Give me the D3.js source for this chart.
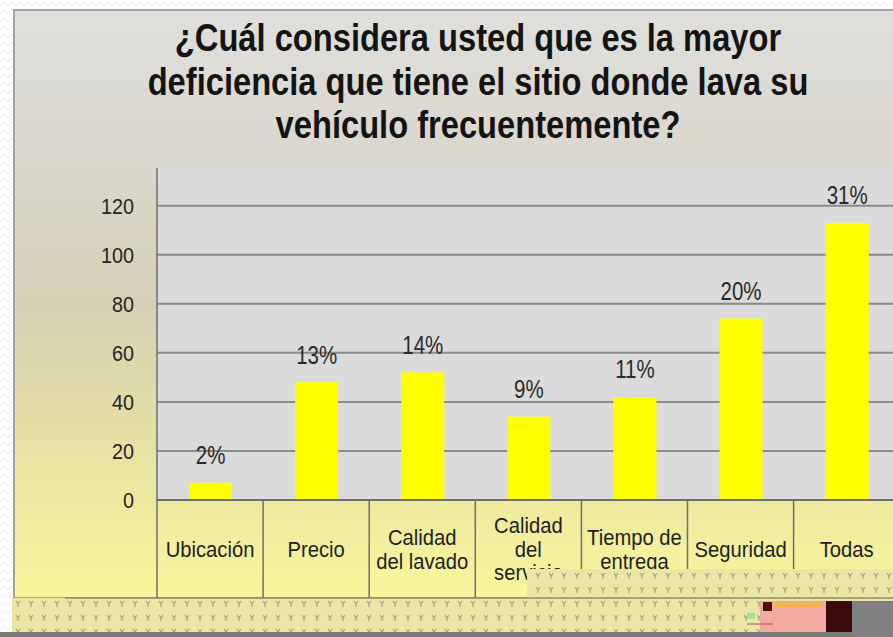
<!DOCTYPE html>
<html>
<head>
<meta charset="utf-8">
<script src="https://cdn.jsdelivr.net/npm/d3@7"></script>
<style>
  html, body { margin: 0; padding: 0; background: #fff; }
  svg { display: block; }
</style>
</head>
<body>
<div id="chart-area"></div>
<script>
// data
var titleLines = ["¿Cuál considera usted que es la mayor",
                  "deficiencia que tiene el sitio donde lava su",
                  "vehículo frecuentemente?"];
var categories = ["Ubicación", "Precio", "Calidad del lavado", "Calidad del servicio",
                  "Tiempo de entrega", "Seguridad", "Todas"];
var categoryLines = [["Ubicación"], ["Precio"], ["Calidad", "del lavado"], ["Calidad", "del", "servicio"],
                     ["Tiempo de", "entrega"], ["Seguridad"], ["Todas"]];
var counts = [7, 48, 52, 34, 42, 74, 113];
var percentLabels = ["2%", "13%", "14%", "9%", "11%", "20%", "31%"];
var yTicks = [0, 20, 40, 60, 80, 100, 120];

var W = 893, H = 637;
var plot = { left: 157, top: 168, bottom: 500, right: 900 };
var tableBottom = 598;

var svg = d3.select("#chart-area").append("svg")
    .attr("width", W)
    .attr("height", H);

var defs = svg.append("defs");

// panel gradient (gray at top going to pale yellow)
var grad = defs.append("linearGradient")
    .attr("id", "panelGrad")
    .attr("x1", 0).attr("y1", 0).attr("x2", 0).attr("y2", 1);
[[0, "#e0dfdd"], [0.25, "#dad7cd"], [0.5, "#d6d0b5"], [0.7, "#e3dea6"], [0.85, "#eeeb9f"], [1, "#f8f69d"]]
    .forEach(function (s) {
        grad.append("stop").attr("offset", s[0]).attr("stop-color", s[1]);
    });

// faint zig-zag on white outer background
var zig = defs.append("pattern")
    .attr("id", "zig").attr("patternUnits", "userSpaceOnUse")
    .attr("width", 8).attr("height", 8);
zig.append("rect").attr("width", 8).attr("height", 8).attr("fill", "#ffffff");
zig.append("path").attr("d", "M0,6 L4,2 L8,6").attr("fill", "none")
    .attr("stroke", "#ececec").attr("stroke-width", 1);

// dotted yellow strip at the bottom
var dots = defs.append("pattern")
    .attr("id", "dots").attr("patternUnits", "userSpaceOnUse")
    .attr("x", 0).attr("y", 598)
    .attr("width", 13).attr("height", 14);
dots.append("rect").attr("width", 13).attr("height", 14).attr("fill", "#ece6a6");
dots.append("path").attr("d", "M3,3 L5,6 L7,3 M5,6 L5,9").attr("fill", "none")
    .attr("stroke", "#a9a07a").attr("stroke-width", 1.2);

svg.append("rect").attr("width", W).attr("height", H).attr("fill", "url(#zig)");

// panel
svg.append("rect")
    .attr("x", 14).attr("y", 10)
    .attr("width", W + 20).attr("height", tableBottom - 10)
    .attr("fill", "url(#panelGrad)")
    .attr("stroke", "#a3a3a3").attr("stroke-width", 2);

// title
var title = svg.append("g").attr("class", "title");
titleLines.forEach(function (t, i) {
    title.append("text")
        .attr("transform", "translate(478," + (51 + i * 43.5) + ") scale(0.86,1)")
        .attr("text-anchor", "middle")
        .attr("font-family", "'Liberation Sans', Arial, sans-serif")
        .attr("font-weight", "bold")
        .attr("font-size", 38)
        .attr("fill", "#141414")
        .text(t);
});

// scales
var x = d3.scaleBand()
    .domain(categories)
    .range([plot.left, plot.left + 7 * 106.1])
    .paddingInner(0).paddingOuter(0);
var y = d3.scaleLinear()
    .domain([0, 120])
    .range([plot.bottom, 205.7]);
var barWidth = 43;

// plot background
svg.append("rect")
    .attr("x", plot.left).attr("y", plot.top)
    .attr("width", plot.right - plot.left).attr("height", plot.bottom - plot.top)
    .attr("fill", "#dbdbdb");

// gridlines
svg.append("g").attr("class", "grid")
    .selectAll("line")
    .data(yTicks.filter(function (d) { return d > 0; }))
    .join("line")
    .attr("x1", plot.left).attr("x2", plot.right)
    .attr("y1", function (d) { return y(d); })
    .attr("y2", function (d) { return y(d); })
    .attr("stroke", "#8b8b8b").attr("stroke-width", 2);

// y tick labels
svg.append("g").attr("class", "y axis")
    .selectAll("text")
    .data(yTicks)
    .join("text")
    .attr("transform", function (d) { return "translate(134," + y(d) + ") scale(0.9,1)"; })
    .attr("dy", "0.36em")
    .attr("text-anchor", "end")
    .attr("font-family", "'Liberation Sans', Arial, sans-serif")
    .attr("font-size", 22)
    .attr("fill", "#262626")
    .text(function (d) { return d; });

// bars
svg.append("g").attr("class", "bars")
    .selectAll("rect")
    .data(counts)
    .join("rect")
    .attr("x", function (d, i) { return x(categories[i]) + x.bandwidth() / 2 - barWidth / 2 + 0.5; })
    .attr("y", function (d) { return y(d); })
    .attr("width", barWidth)
    .attr("height", function (d) { return y(0) - y(d); })
    .attr("fill", "#ffff00");

// percentage labels
svg.append("g").attr("class", "labels")
    .selectAll("text")
    .data(counts)
    .join("text")
    .attr("transform", function (d, i) {
        return "translate(" + (x(categories[i]) + x.bandwidth() / 2 + 0.5) + "," + (y(d) - 18.5) + ") scale(0.82,1)";
    })
    .attr("text-anchor", "middle")
    .attr("font-family", "'Liberation Sans', Arial, sans-serif")
    .attr("font-size", 25)
    .attr("fill", "#2a2a2a")
    .text(function (d, i) { return percentLabels[i]; });

// axis lines & category table
var axisColor = "#6e6e6e";
svg.append("line")
    .attr("x1", plot.left).attr("x2", plot.left)
    .attr("y1", plot.top).attr("y2", tableBottom)
    .attr("stroke", axisColor).attr("stroke-width", 1.5);
svg.append("line")
    .attr("x1", plot.left).attr("x2", plot.right)
    .attr("y1", plot.bottom).attr("y2", plot.bottom)
    .attr("stroke", axisColor).attr("stroke-width", 2);
svg.append("g").attr("class", "x separators")
    .selectAll("line")
    .data(categories.slice(1))
    .join("line")
    .attr("x1", function (d) { return x(d); })
    .attr("x2", function (d) { return x(d); })
    .attr("y1", plot.bottom).attr("y2", tableBottom)
    .attr("stroke", axisColor).attr("stroke-width", 1.5);

var catG = svg.append("g").attr("class", "x axis");
categoryLines.forEach(function (lines, i) {
    var cx = x(categories[i]) + x.bandwidth() / 2;
    var mid = (plot.bottom + tableBottom) / 2;
    var lh = 23.5;
    lines.forEach(function (ln, j) {
        var cy = mid + (j - (lines.length - 1) / 2) * lh;
        catG.append("text")
            .attr("transform", "translate(" + cx + "," + cy + ") scale(0.92,1)")
            .attr("dy", "0.36em")
            .attr("text-anchor", "middle")
            .attr("font-family", "'Liberation Sans', Arial, sans-serif")
            .attr("font-size", 22)
            .attr("fill", "#1e1e1e")
            .text(ln);
    });
});

// dotted strip below the table, plus the piece covering the right labels
svg.append("rect")
    .attr("x", 12).attr("y", tableBottom)
    .attr("width", W).attr("height", 34)
    .attr("fill", "url(#dots)");
svg.append("rect")
    .attr("x", 527).attr("y", 569)
    .attr("width", W).attr("height", tableBottom - 569)
    .attr("fill", "url(#dots)");
svg.append("line")
    .attr("x1", 65).attr("x2", W)
    .attr("y1", tableBottom).attr("y2", tableBottom)
    .attr("stroke", "#8c8a70").attr("stroke-width", 1.5);

// gray footer strip and the glitchy bits in the corner
svg.append("rect").attr("x", 0).attr("y", 632).attr("width", W).attr("height", 5).attr("fill", "#7a7a78");
svg.append("rect").attr("x", 852).attr("y", 601).attr("width", 41).attr("height", 36).attr("fill", "#808080");
svg.append("rect").attr("x", 760).attr("y", 601).attr("width", 66).attr("height", 31).attr("fill", "#f3aaa0");
svg.append("rect").attr("x", 774).attr("y", 601).attr("width", 48).attr("height", 7).attr("fill", "#f2b455");
svg.append("rect").attr("x", 826).attr("y", 601).attr("width", 26).attr("height", 31).attr("fill", "#3b0a0b");
svg.append("rect").attr("x", 763).attr("y", 602).attr("width", 9).attr("height", 9).attr("fill", "#4a1010");
svg.append("rect").attr("x", 747).attr("y", 613).attr("width", 8).attr("height", 6).attr("fill", "#9ee39a");
svg.append("line").attr("x1", 747).attr("x2", 773).attr("y1", 624).attr("y2", 624)
    .attr("stroke", "#b05040").attr("stroke-width", 1);
</script>
</body>
</html>
